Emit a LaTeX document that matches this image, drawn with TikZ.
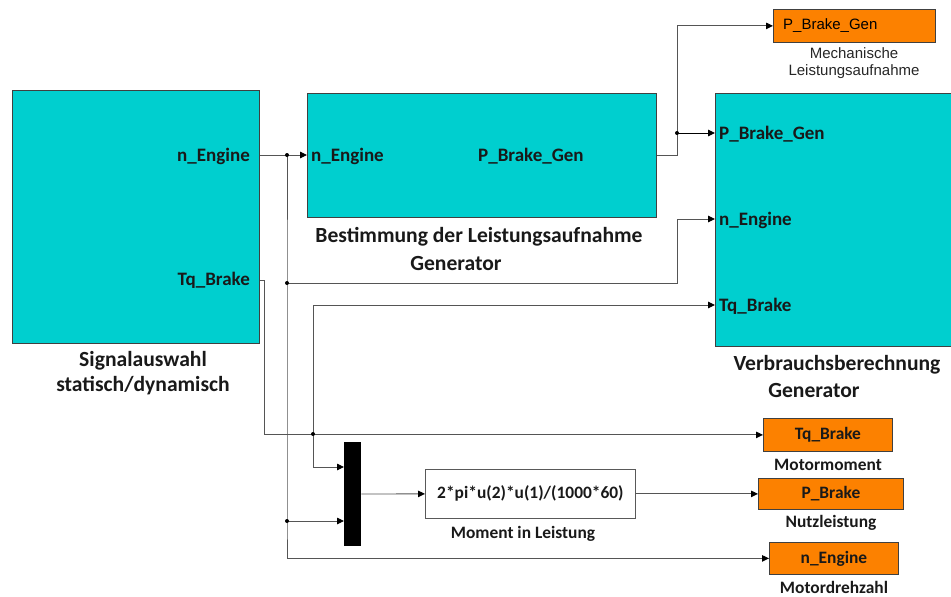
\documentclass[tikz,border=0pt]{standalone}
\usepackage{fontspec}
\setmainfont{Carlito}
\newfontfamily\arialf{Liberation Sans}
\usetikzlibrary{arrows.meta}
\definecolor{blkc}{HTML}{00CFCF}
\definecolor{orgc}{HTML}{FC8100}
\definecolor{wirec}{HTML}{555555}
\begin{document}
\begin{tikzpicture}[x=1pt,y=-1pt,
  block/.style={draw=black!75, fill=blkc, line width=0.8pt, inner sep=0pt, anchor=north west},
  outbox/.style={draw=black!75, fill=orgc, line width=0.8pt, inner sep=0pt, anchor=north west},
  fcnbox/.style={draw=black!65, fill=white, line width=0.8pt, inner sep=0pt, anchor=north west},
  lbl/.style={font=\bfseries\fontsize{19}{21}\selectfont, inner sep=0pt, text=black!90},
  captxt/.style={font=\bfseries\fontsize{21.6}{25}\selectfont, align=center, inner sep=0pt, text=black!90},
  slbl/.style={font=\bfseries\fontsize{17.4}{20}\selectfont, inner sep=0pt, text=black!90},
  wire/.style={draw=wirec, line width=0.9pt},
  arr/.style={wire, -{Triangle[length=7pt,width=6.5pt,fill=black,color=black]}},
  jdot/.style={circle, fill=black, inner sep=0pt, minimum size=4pt}]
\useasboundingbox (0,0) rectangle (951,597);

% blocks
\node[block, minimum width=247pt, minimum height=253pt] (sig) at (12,90) {};
\node[block, minimum width=349pt, minimum height=124pt] (gen) at (307,93) {};
\node[block, minimum width=245pt, minimum height=253pt] (verb) at (715,93) {};
\node[fill=black, inner sep=0pt, anchor=north west, minimum width=17pt, minimum height=104pt] (mux) at (344,442) {};
\node[fcnbox, minimum width=210pt, minimum height=49pt] (fcn) at (425,469) {};
\node[outbox, minimum width=162pt, minimum height=33pt] (oPBG) at (773,9) {};
\node[outbox, minimum width=129pt, minimum height=33pt] (oTq) at (763,418) {};
\node[outbox, minimum width=145pt, minimum height=31pt] (oPB) at (758,478) {};
\node[outbox, minimum width=129pt, minimum height=32pt] (oNE) at (769,542) {};

% port labels
\node[lbl, anchor=east] (sNE) at (250,156) {n\_Engine};
\node[lbl, anchor=east] (sTq) at (250,280) {Tq\_Brake};
\node[lbl, anchor=west] (gNE) at (311,156) {n\_Engine};
\node[lbl, anchor=west] (gPB) at (478,156) {P\_Brake\_Gen};
\node[lbl, anchor=west] (vPB) at (719,134) {P\_Brake\_Gen};
\node[lbl, anchor=west] (vNE) at (719,220) {n\_Engine};
\node[lbl, anchor=west] (vTq) at (719,306) {Tq\_Brake};

% captions
\node[captxt] (csig) at (143,373) {Signalauswahl\\statisch/dynamisch};
\node[captxt] (cgen1) at (479,237) {Bestimmung der Leistungsaufnahme};
\node[captxt] (cgen2) at (456,263) {Generator};
\node[captxt] (cverb1) at (837,365) {Verbrauchsberechnung};
\node[captxt] (cverb2) at (814,390) {Generator};

% function block text
\node[slbl] (ftxt) at (fcn.center) {2*pi*u(2)*u(1)/(1000*60)};
\node[slbl] (cfcn) at (523,534) {Moment in Leistung};

% sink texts
\node[font=\arialf\fontsize{15}{17}\selectfont, inner sep=0pt, anchor=west] (tPBG) at (783,26) {P\_Brake\_Gen};
\node[font=\arialf\fontsize{15}{17.5}\selectfont, inner sep=0pt, align=center, text=black!85] (cPBG) at (854,63) {Mechanische\\Leistungsaufnahme};
\node[slbl] (tTq) at (oTq.center) {Tq\_Brake};
\node[slbl] (tPB) at (oPB.center) {P\_Brake};
\node[slbl] (tNE) at (oNE.center) {n\_Engine};
\node[slbl] (cTq) at (828,465) {Motormoment};
\node[slbl] (cPB) at (831,523) {Nutzleistung};
\node[slbl] (cNE) at (834,587) {Motordrehzahl};

% ports and junctions
\coordinate (pSNE) at (sig.east |- 0,155);
\coordinate (pSTq) at (sig.east |- 0,280);
\coordinate (pGin) at (gen.west |- 0,155);
\coordinate (pGout) at (gen.east |- 0,155);
\coordinate (pV1) at (verb.west |- 0,133);
\coordinate (pV2) at (verb.west |- 0,219);
\coordinate (pV3) at (verb.west |- 0,305);
\coordinate (pM1) at (mux.west |- 0,467);
\coordinate (pM2) at (mux.west |- 0,521);
\coordinate (pMo) at (mux.east |- 0,494);
\coordinate (J1) at (287,155);
\coordinate (J2) at (287,283);
\coordinate (J3) at (287,521);
\coordinate (J4) at (313,434);
\coordinate (J5) at (677,133);

% wires
\draw[wire] (pSNE) -- (J1);
\draw[arr] (J1) -- (pGin);
\draw[arr] (J1) -- (J2) -- (J3) |- (oNE.west);
\draw[arr] (J2) -- (677,283) |- (pV2);
\draw[arr] (J3) -- (pM2);
\draw[arr] (pSTq) -- (264,280) |- (oTq.west);
\draw[arr] (J4) |- (pV3);
\draw[arr] (J4) |- (pM1);
\draw[wire] (pGout) -| (J5);
\draw[arr] (J5) |- (oPBG.west);
\draw[arr, draw=black] (J5) -- (pV1);
\draw[arr] (pMo) -- (fcn.west);
\draw[arr] (fcn.east) -- (oPB.west);

\foreach \j in {J1,J2,J3,J4,J5} \node[jdot] at (\j) {};
\end{tikzpicture}
\end{document}
